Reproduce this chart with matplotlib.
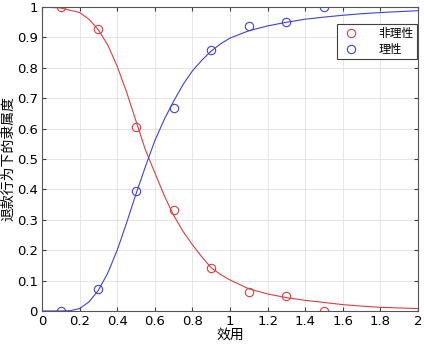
import matplotlib
matplotlib.use("Agg")
import matplotlib.pyplot as plt
from matplotlib.ticker import FuncFormatter

# observed data (points)
x_pts = [0.1, 0.3, 0.5, 0.7, 0.9, 1.1, 1.3, 1.5]
irrational_pts = [1.0, 0.928, 0.605, 0.333, 0.140, 0.062, 0.048, 0.0]
rational_pts = [0.0, 0.072, 0.395, 0.667, 0.860, 0.938, 0.952, 1.0]

# fitted curves
x_fit_red = [0.0, 0.1, 0.2, 0.25, 0.3, 0.35, 0.4, 0.45, 0.5, 0.55, 0.6, 0.65, 0.7,
             0.75, 0.8, 0.85, 0.9, 0.95, 1.0, 1.1, 1.2, 1.3, 1.4, 1.5, 1.6, 1.7,
             1.8, 1.9, 2.0]
irrational_fit = [1.000, 0.997, 0.982, 0.960, 0.925, 0.875, 0.805, 0.720, 0.625,
                  0.530, 0.455, 0.380, 0.315, 0.262, 0.218, 0.178, 0.142, 0.120,
                  0.102, 0.073, 0.056, 0.044, 0.035, 0.028, 0.021, 0.016, 0.012,
                  0.010, 0.008]
x_fit_blue = [0.0, 0.1, 0.15, 0.2, 0.25, 0.3, 0.35, 0.4, 0.45, 0.5, 0.55, 0.6,
              0.65, 0.7, 0.75, 0.8, 0.85, 0.9, 0.95, 1.0, 1.1, 1.2, 1.3, 1.4, 1.5,
              1.6, 1.7, 1.8, 1.9, 2.0]
rational_fit = [0.000, 0.000, 0.001, 0.008, 0.030, 0.068, 0.125, 0.200, 0.290,
                0.385, 0.475, 0.560, 0.630, 0.690, 0.745, 0.790, 0.825, 0.855,
                0.879, 0.898, 0.922, 0.938, 0.950, 0.960, 0.967, 0.973, 0.978,
                0.982, 0.985, 0.988]

RED = "#e03c3c"
BLUE = "#4040e0"

plt.rcParams["font.family"] = ["DejaVu Sans"]
cjk = ["Noto Sans CJK SC", "DejaVu Sans"]

fig = plt.figure(figsize=(4.24, 3.53), dpi=100)
ax = fig.add_axes([0.099, 0.119, 0.887, 0.861])

ax.plot(x_pts, irrational_pts, "o", mfc="none", mec=RED, ms=6, mew=0.8, label="非理性")
ax.plot(x_pts, rational_pts, "o", mfc="none", mec=BLUE, ms=6, mew=0.8, label="理性")
ax.plot(x_fit_red, irrational_fit, color=RED, lw=0.8)
ax.plot(x_fit_blue, rational_fit, color=BLUE, lw=0.8)

ax.set_xlim(0, 2)
ax.set_ylim(0, 1)
ax.set_xticks([i / 5 for i in range(11)])
ax.set_yticks([i / 10 for i in range(11)])
fmt = FuncFormatter(lambda v, p: f"{v:g}")
ax.xaxis.set_major_formatter(fmt)
ax.yaxis.set_major_formatter(fmt)
ax.tick_params(direction="in", length=3, width=0.8, labelsize=9.5, color="#404040",
               top=True, right=True, pad=3)
for s in ax.spines.values():
    s.set_color("#555555")
    s.set_linewidth(0.8)
ax.grid(True, color="#e0e0e0", linewidth=0.6)
ax.set_axisbelow(True)

ax.set_xlabel("效用", family=cjk, fontsize=10, labelpad=0)
ax.set_ylabel("退款行为下的隶属度", family=cjk, fontsize=10, labelpad=1)

leg = ax.legend(loc="upper right", bbox_to_anchor=(0.998, 0.945), borderaxespad=0,
                prop={"family": cjk, "size": 8.5},
                fancybox=False, edgecolor="#404040", framealpha=1, borderpad=0.3,
                handletextpad=1.4, labelspacing=0.2, handlelength=1.8)
leg.get_frame().set_linewidth(0.8)

fig.savefig("out.png", dpi=100)
